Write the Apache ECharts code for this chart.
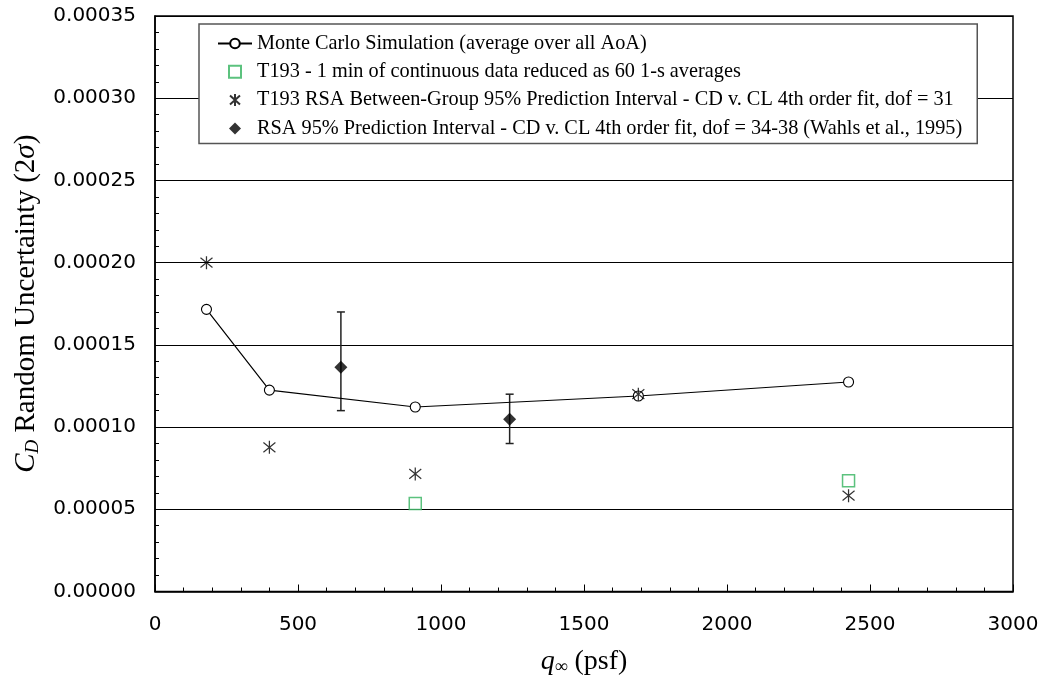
<!DOCTYPE html>
<html><head><meta charset="utf-8">
<script src="https://cdn.jsdelivr.net/npm/echarts@6/dist/echarts.min.js"></script>
<style>html,body{margin:0;padding:0;background:#fff}#c{width:1047px;height:683px}</style>
</head><body><div id="c"></div>
<script>
// ---- data ----
const xTickLabels = ['0', '500', '1000', '1500', '2000', '2500', '3000'];
const yTickLabels = ['0.00000', '0.00005', '0.00010', '0.00015', '0.00020', '0.00025', '0.00030', '0.00035'];
const seriesNames = [
  'Monte Carlo Simulation (average over all AoA)',
  'T193 - 1 min of continuous data reduced as 60 1-s averages',
  'T193 RSA Between-Group 95% Prediction Interval - CD v. CL 4th order fit, dof = 31',
  'RSA 95% Prediction Interval - CD v. CL 4th order fit, dof = 34-38 (Wahls et al., 1995)'
];
const mcQ = [180, 400, 910, 1690, 2425];
const mcVal = [0.0001716, 0.0001225, 0.0001122, 0.0001189, 0.0001274];
const t193Q = [910, 2425];
const t193Val = [0.0000535, 0.0000674];
const rsaQ = [180, 400, 910, 1690, 2425];
const rsaVal = [0.0002, 0.0000877, 0.0000715, 0.00012, 0.0000583];
const wahlsQ = [650, 1240];
const wahlsVal = [0.0001364, 0.0001047];
const wahlsLow = [0.00011, 0.00009];
const wahlsHigh = [0.00017, 0.00012];

// ---- chart ----
const xStep = Number(xTickLabels[1]) - Number(xTickLabels[0]);
const yStep = Number(yTickLabels[1]) - Number(yTickLabels[0]);
const SERIF = 'Liberation Serif, Times New Roman, serif';
const SANS = 'DejaVu Sans, Arial, sans-serif';
const GREEN = '#33b35e';
const starPath = 'path://M5,0 L5,12 M0,1.5 L10,10.5 M0,10.5 L10,1.5';
const squarePath = 'path://M0,0 L10,0 L10,10 L0,10 Z';
const diamondPath = 'path://M5,0 L10,5 L5,10 L0,5 Z';

const chart = echarts.init(document.getElementById('c'), null, {renderer: 'canvas'});
chart.setOption({
  animation: false,
  backgroundColor: '#fff',
  grid: {left: 155, top: 16, right: 34, bottom: 91.5, show: true, borderColor: '#000', borderWidth: 1.5, backgroundColor: 'transparent'},
  legend: {
    orient: 'vertical', left: 199, top: 24,
    padding: [9.5, 15, 5, 18],
    backgroundColor: '#fff', borderColor: '#555', borderWidth: 1.5,
    itemWidth: 34, itemHeight: 12, itemGap: 8.3,
    textStyle: {fontFamily: SERIF, fontSize: 20.3, color: '#000', lineHeight: 20},
    selectedMode: false,
    data: [
      {name: seriesNames[0]},
      {name: seriesNames[1], icon: squarePath},
      {name: seriesNames[2], icon: starPath},
      {name: seriesNames[3], icon: diamondPath}
    ]
  },
  xAxis: {
    type: 'value', min: Number(xTickLabels[0]), max: Number(xTickLabels[xTickLabels.length - 1]), interval: xStep,
    axisLine: {show: true, lineStyle: {color: '#000', width: 1.5}},
    axisTick: {show: true, inside: true, length: 7, lineStyle: {color: '#000', width: 1}},
    minorTick: {show: true, splitNumber: 5, length: 4, lineStyle: {color: '#000', width: 1}},
    splitLine: {show: false},
    axisLabel: {fontFamily: SANS, fontSize: 20, color: '#000', margin: 23,
      formatter: v => xTickLabels[Math.round((v - Number(xTickLabels[0])) / xStep)]},
    name: '{q|q}{s|∞}{n| (psf)}', nameLocation: 'middle', nameGap: 55,
    nameTextStyle: {rich: {
      q: {fontFamily: SERIF, fontStyle: 'italic', fontSize: 28, color: '#000'},
      s: {fontFamily: SERIF, fontSize: 18, color: '#000', padding: [12, 0, 0, 0]},
      n: {fontFamily: SERIF, fontSize: 28, color: '#000'}
    }}
  },
  yAxis: {
    type: 'value', min: 0, max: yStep * (yTickLabels.length - 1), interval: yStep,
    axisLine: {show: true, lineStyle: {color: '#000', width: 1.5}},
    axisTick: {show: true, inside: true, length: 6, lineStyle: {color: '#000', width: 1}},
    minorTick: {show: true, splitNumber: 5, length: 4, lineStyle: {color: '#000', width: 1}},
    splitLine: {show: true, lineStyle: {color: '#000', width: 1}},
    axisLabel: {fontFamily: SANS, fontSize: 20, color: '#000', margin: 19,
      formatter: v => yTickLabels[Math.round(v / yStep)]},
    name: '{ci|C}{sub|D}{n| Random Uncertainty (2}{ci|σ}{n|)}', nameLocation: 'middle', nameGap: 112,
    nameTextStyle: {rich: {
      ci: {fontFamily: SERIF, fontStyle: 'italic', fontSize: 29, color: '#000'},
      sub: {fontFamily: SERIF, fontStyle: 'italic', fontSize: 19, color: '#000', padding: [14, 0, 0, 0]},
      n: {fontFamily: SERIF, fontSize: 29, color: '#000'}
    }}
  },
  series: [
    {
      name: seriesNames[0], type: 'line', data: mcQ.map((q, i) => [q, mcVal[i]]),
      symbol: 'circle', symbolSize: 10, z: 4,
      lineStyle: {color: '#000', width: 1.2},
      itemStyle: {color: '#fff', borderColor: '#000', borderWidth: 1.1}
    },
    {
      name: 'error', type: 'custom', z: 3, silent: true,
      data: wahlsQ.map((q, i) => [q, wahlsLow[i], wahlsHigh[i]]),
      encode: {x: 0, y: [1, 2]},
      renderItem: (params, api) => {
        const lo = api.coord([api.value(0), api.value(1)]);
        const hi = api.coord([api.value(0), api.value(2)]);
        const w = 4;
        const st = {stroke: '#222', lineWidth: 1.5};
        return {type: 'group', children: [
          {type: 'line', shape: {x1: lo[0], y1: lo[1], x2: hi[0], y2: hi[1]}, style: st},
          {type: 'line', shape: {x1: lo[0] - w, y1: lo[1], x2: lo[0] + w, y2: lo[1]}, style: st},
          {type: 'line', shape: {x1: hi[0] - w, y1: hi[1], x2: hi[0] + w, y2: hi[1]}, style: st}
        ]};
      }
    },
    {
      name: seriesNames[1], type: 'scatter', data: t193Q.map((q, i) => [q, t193Val[i]]),
      symbol: squarePath, symbolSize: 12, z: 5,
      itemStyle: {color: '#fff', borderColor: GREEN, borderWidth: 1.5}
    },
    {
      name: seriesNames[2], type: 'scatter', data: rsaQ.map((q, i) => [q, rsaVal[i]]),
      symbol: starPath, symbolSize: [12, 13], z: 6,
      itemStyle: {color: 'rgba(0,0,0,0)', borderColor: '#000', borderWidth: 1.3}
    },
    {
      name: seriesNames[3], type: 'scatter', data: wahlsQ.map((q, i) => [q, wahlsVal[i]]),
      symbol: diamondPath, symbolSize: 13, z: 6,
      itemStyle: {color: '#000', borderColor: '#000', borderWidth: 0}
    }
  ]
});
</script>
</body></html>
